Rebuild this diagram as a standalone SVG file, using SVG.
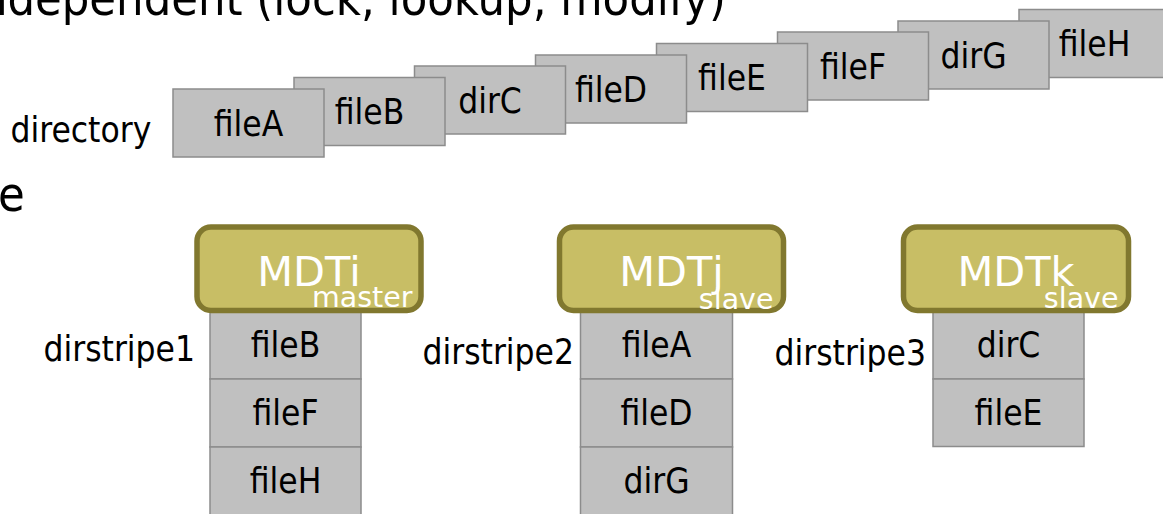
<svg xmlns="http://www.w3.org/2000/svg" width="1163" height="514" viewBox="0 0 1163 514">
  <style>
    .lbl { font-family: "DejaVu Sans Condensed", "DejaVu Sans", sans-serif; font-stretch: condensed; fill: #000; }
    .big { font-size: 48.3px; }
    .txt { font-size: 35px; }
    .cell { fill: #c0c0c0; stroke: #8c8c8c; stroke-width: 1.5; }
    .mdt { fill: #c8be65; stroke: #81782f; stroke-width: 5.5; }
    .mdtname { font-family: "DejaVu Sans", sans-serif; font-size: 41.5px; fill: #fff; text-anchor: middle; }
    .role { font-family: "DejaVu Sans", sans-serif; font-size: 28.5px; fill: #fff; text-anchor: end; }
    .mid { text-anchor: middle; }
    .end { text-anchor: end; }
  </style>

  <!-- heading lines, clipped at the canvas edge -->
  <g id="heading">
    <text class="lbl big" x="-32.2" y="15">independent (lock, lookup, modify)</text>
    <text class="lbl big" x="-2" y="211">e</text>
  </g>

  <!-- directory: entries fanned out, first entry on top -->
  <g id="directory">
    <text class="lbl txt" x="10.5" y="141.5">directory</text>
    <g id="dir-fileH"><rect class="cell" x="1019" y="9.5" width="151" height="68"/><text class="lbl txt mid" x="1094.5" y="56">fileH</text></g>
    <g id="dir-dirG"><rect class="cell" x="898" y="21" width="151" height="68"/><text class="lbl txt mid" x="973.5" y="67.5">dirG</text></g>
    <g id="dir-fileF"><rect class="cell" x="777.5" y="32" width="151" height="68"/><text class="lbl txt mid" x="853" y="78.5">fileF</text></g>
    <g id="dir-fileE"><rect class="cell" x="656.5" y="43.5" width="151" height="68"/><text class="lbl txt mid" x="732" y="90">fileE</text></g>
    <g id="dir-fileD"><rect class="cell" x="535.5" y="55" width="151" height="68"/><text class="lbl txt mid" x="611" y="101.5">fileD</text></g>
    <g id="dir-dirC"><rect class="cell" x="414.5" y="66" width="151" height="68"/><text class="lbl txt mid" x="490" y="112.5">dirC</text></g>
    <g id="dir-fileB"><rect class="cell" x="294" y="77.5" width="151" height="68"/><text class="lbl txt mid" x="369.5" y="124">fileB</text></g>
    <g id="dir-fileA"><rect class="cell" x="173" y="89" width="151" height="68"/><text class="lbl txt mid" x="248.5" y="135.5">fileA</text></g>
  </g>

  <!-- stripe 1 on MDTi -->
  <g id="dirstripe1">
    <text class="lbl txt end" x="195" y="361">dirstripe1</text>
    <rect class="cell" x="210" y="311" width="151" height="68"/>
    <rect class="cell" x="210" y="379" width="151" height="68"/>
    <rect class="cell" x="210" y="447" width="151" height="68"/>
    <text class="lbl txt mid" x="285.5" y="357">fileB</text>
    <text class="lbl txt mid" x="285.5" y="425">fileF</text>
    <text class="lbl txt mid" x="285.5" y="493">fileH</text>
  </g>
  <g id="MDTi">
    <rect class="mdt" x="197" y="227" width="224" height="83.5" rx="14"/>
    <text class="mdtname" x="309" y="285.5">MDTi</text>
    <text class="role" x="412.5" y="307">master</text>
  </g>

  <!-- stripe 2 on MDTj -->
  <g id="dirstripe2">
    <text class="lbl txt end" x="574" y="363.5">dirstripe2</text>
    <rect class="cell" x="580.5" y="311" width="152" height="68"/>
    <rect class="cell" x="580.5" y="379" width="152" height="68"/>
    <rect class="cell" x="580.5" y="447" width="152" height="68"/>
    <text class="lbl txt mid" x="656.5" y="357">fileA</text>
    <text class="lbl txt mid" x="656.5" y="425">fileD</text>
    <text class="lbl txt mid" x="656.5" y="493">dirG</text>
  </g>
  <g id="MDTj">
    <rect class="mdt" x="559.5" y="227" width="224" height="83.5" rx="14"/>
    <text class="mdtname" x="671.5" y="285.5">MDTj</text>
    <text class="role" x="773.5" y="309">slave</text>
  </g>

  <!-- stripe 3 on MDTk -->
  <g id="dirstripe3">
    <text class="lbl txt end" x="926" y="365">dirstripe3</text>
    <rect class="cell" x="933" y="311" width="151" height="68"/>
    <rect class="cell" x="933" y="379" width="151" height="67.5"/>
    <text class="lbl txt mid" x="1008.5" y="357">dirC</text>
    <text class="lbl txt mid" x="1008.5" y="425">fileE</text>
  </g>
  <g id="MDTk">
    <rect class="mdt" x="903.5" y="227" width="225" height="83.5" rx="14"/>
    <text class="mdtname" x="1016" y="285.5">MDTk</text>
    <text class="role" x="1118.5" y="307.5">slave</text>
  </g>
</svg>
